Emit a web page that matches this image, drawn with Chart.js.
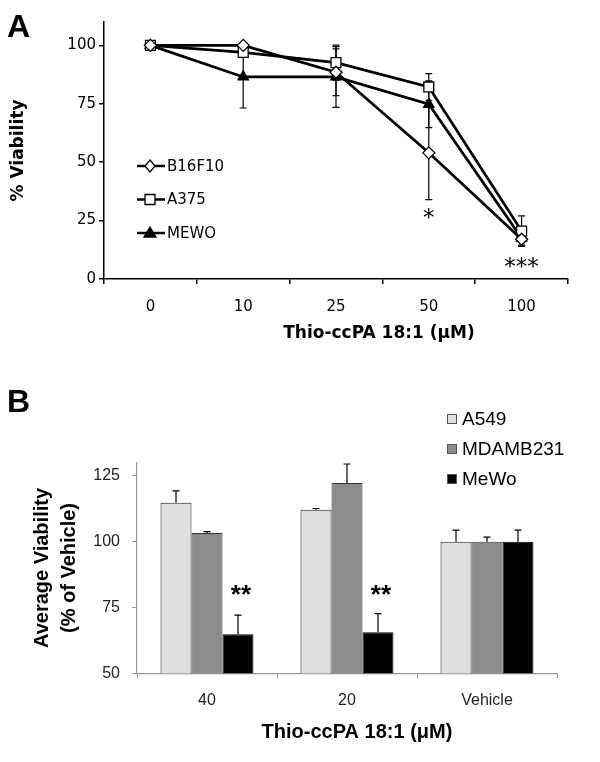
<!DOCTYPE html>
<html>
<head>
<meta charset="utf-8">
<script src="https://cdn.jsdelivr.net/npm/chart.js@4.4.0/dist/chart.umd.min.js"></script>
<style>
  body { margin: 0; background: #fff; }
  .page { position: relative; width: 600px; height: 762px; overflow: hidden; }
  .panel { position: absolute; left: 7px; font: bold 32px "Liberation Sans", Arial, sans-serif; line-height: 1; color: #000; }
  #chartA { position: absolute; left: 0; top: 0; }
  #chartB { position: absolute; left: 0; top: 380px; }
</style>
</head>
<body>
<div class="page">
  <canvas id="chartA" width="600" height="350"></canvas>
  <canvas id="chartB" width="600" height="382"></canvas>
  <div class="panel" style="top:10px">A</div>
  <div class="panel" style="top:385px">B</div>
</div>
<script>
// Panel A: dose response, % viability
const dosesA = ['0', '10', '25', '50', '100'];
const b16f10 = [100, 100, 88.5, 54, 17];
const b16f10Err = [0, 0, 10, 20, 3];
const a375 = [100, 97, 92.6, 82.2, 20.5];
const a375Err = [0, 0, 7.5, 5.7, 6.5];
const mewo = [100, 86.5, 86.5, 74.8, 17.5];
const mewoErr = [0, 13.3, 13, 10, 3];
const ticksA = [0, 25, 50, 75, 100];
const starsA = [['50', 27, '*'], ['100', 6, '***']];
const xTitleA = 'Thio-ccPA 18:1 (μM)';

// Panel B: average viability (% of vehicle)
const dosesB = ['40', '20', 'Vehicle'];
const a549 = [114.8, 112.1, 100];
const a549Err = [4.5, 0.5, 4.4];
const mdamb231 = [103.3, 122.3, 100];
const mdamb231Err = [0.5, 7.2, 1.7];
const mewoB = [64.8, 65.6, 100];
const mewoBErr = [7.3, 7.1, 4.4];
const ticksB = [50, 75, 100, 125];
const starsB = [['40', 81, '**'], ['20', 81, '**']];
const xTitleB = 'Thio-ccPA 18:1 (μM)';

const verdana = 'DejaVu Sans';
const arial = 'Liberation Sans';

function drawMarker(ctx, style, x, y, filled) {
  ctx.beginPath();
  if (style === 'rectRot') {
    ctx.moveTo(x, y - 6); ctx.lineTo(x + 5, y); ctx.lineTo(x, y + 6); ctx.lineTo(x - 5, y); ctx.closePath();
  } else if (style === 'rect') {
    ctx.rect(x - 5, y - 5, 10, 10);
  } else {
    ctx.moveTo(x, y - 6); ctx.lineTo(x + 6, y + 4); ctx.lineTo(x - 6, y + 4); ctx.closePath();
  }
  ctx.fillStyle = filled ? '#000' : '#fff';
  ctx.fill();
  ctx.lineWidth = 1.3;
  ctx.strokeStyle = '#000';
  ctx.stroke();
}

const errorBarsA = {
  id: 'errorBarsA',
  beforeDatasetsDraw(chart) {
    const ctx = chart.ctx, ys = chart.scales.y;
    ctx.save();
    ctx.strokeStyle = '#000';
    ctx.lineWidth = 1.2;
    chart.data.datasets.forEach((ds, di) => {
      const meta = chart.getDatasetMeta(di);
      ds.errors.forEach((e, i) => {
        if (!e) return;
        const x = meta.data[i].x;
        const yt = ys.getPixelForValue(ds.data[i] + e);
        const yb = ys.getPixelForValue(ds.data[i] - e);
        ctx.beginPath();
        ctx.moveTo(x, yt); ctx.lineTo(x, yb);
        ctx.moveTo(x - 3.5, yt); ctx.lineTo(x + 3.5, yt);
        ctx.moveTo(x - 3.5, yb); ctx.lineTo(x + 3.5, yb);
        ctx.stroke();
      });
    });
    ctx.restore();
  },
  afterDraw(chart) {
    const ctx = chart.ctx, xs = chart.scales.x, ys = chart.scales.y;
    ctx.save();
    ctx.fillStyle = '#000';
    ctx.textAlign = 'center';
    ctx.textBaseline = 'middle';
    ctx.font = '23px "' + verdana + '"';
    starsA.forEach(([cat, v, t]) => {
      ctx.fillText(t, xs.getPixelForValue(dosesA.indexOf(cat)), ys.getPixelForValue(v) + 3);
    });
    // x axis title, set right of centre as in the original figure
    ctx.font = 'bold 17px "' + verdana + '"';
    ctx.fillText(xTitleA, (chart.chartArea.left + chart.chartArea.right) / 2 + 43, 334);
    // legend
    ctx.font = '15px "' + verdana + '"';
    ctx.textAlign = 'left';
    chart.data.datasets.forEach((ds, i) => {
      const y = 166 + i * 33.5;
      ctx.beginPath();
      ctx.moveTo(137, y); ctx.lineTo(165, y);
      ctx.lineWidth = 2.5; ctx.strokeStyle = '#000';
      ctx.stroke();
      drawMarker(ctx, ds.pointStyle, 150, y, ds.pointBackgroundColor === '#000');
      ctx.fillStyle = '#000';
      ctx.fillText(ds.label, 167, y + 1);
    });
    ctx.restore();
  }
};

function lineSet(label, data, errors, style, fill, radius) {
  return {
    label, data, errors,
    borderColor: '#000', borderWidth: 2.7, tension: 0,
    pointStyle: style, pointRadius: radius,
    pointBackgroundColor: fill, pointBorderColor: '#000', pointBorderWidth: 1.3
  };
}

new Chart(document.getElementById('chartA'), {
  type: 'line',
  data: {
    labels: dosesA,
    datasets: [
      lineSet('B16F10', b16f10, b16f10Err, 'rectRot', '#fff', 6),
      lineSet('A375', a375, a375Err, 'rect', '#fff', 7),
      lineSet('MEWO', mewo, mewoErr, 'triangle', '#000', 6)
    ]
  },
  options: {
    responsive: false,
    animation: false,
    layout: { padding: { top: 22, right: 32, left: 0, bottom: 0 } },
    plugins: { legend: { display: false }, tooltip: { enabled: false } },
    scales: {
      x: {
        offset: true,
        grid: { offset: true, drawOnChartArea: false, color: '#000', lineWidth: 1.5, tickLength: 5 },
        border: { color: '#000', width: 1.5 },
        ticks: { color: '#000', padding: 14, font: { family: verdana, size: 15 } },
        afterFit(s) { s.height = 71; }
      },
      y: {
        min: 0, max: 110,
        grid: { drawOnChartArea: false, color: '#000', lineWidth: 1.5, tickLength: 5 },
        border: { color: '#000', width: 1.5 },
        ticks: { color: '#000', padding: 3, font: { family: verdana, size: 15 } },
        afterBuildTicks(s) { s.ticks = ticksA.map(v => ({ value: v })); },
        title: { display: true, text: '% Viability', color: '#000',
                 font: { family: verdana, size: 17, weight: 'bold' }, padding: { top: 8 } },
        afterFit(s) { s.width = 104; }
      }
    }
  },
  plugins: [errorBarsA]
});

const errorBarsB = {
  id: 'errorBarsB',
  afterDatasetsDraw(chart) {
    const ctx = chart.ctx, ys = chart.scales.y;
    ctx.save();
    ctx.strokeStyle = '#000';
    ctx.lineWidth = 1.2;
    chart.data.datasets.forEach((ds, di) => {
      const meta = chart.getDatasetMeta(di);
      ds.errors.forEach((e, i) => {
        const x = meta.data[i].x;
        const yb = ys.getPixelForValue(ds.data[i]);
        const yt = ys.getPixelForValue(ds.data[i] + e);
        ctx.beginPath();
        ctx.moveTo(x, yb); ctx.lineTo(x, yt);
        ctx.moveTo(x - 3.5, yt); ctx.lineTo(x + 3.5, yt);
        ctx.stroke();
      });
    });
    ctx.fillStyle = '#000';
    ctx.textAlign = 'center';
    ctx.textBaseline = 'middle';
    ctx.font = 'bold 26px "' + arial + '"';
    const meta = chart.getDatasetMeta(2);
    starsB.forEach(([cat, v, t]) => {
      const i = dosesB.indexOf(cat);
      ctx.fillText(t, meta.data[i].x + 3, ys.getPixelForValue(v) + 4);
    });
    // x axis title
    ctx.font = 'bold 20px "' + arial + '"';
    ctx.fillText(xTitleB, (chart.chartArea.left + chart.chartArea.right) / 2 + 10, 352);
    // legend
    ctx.font = '19px "' + arial + '"';
    ctx.textAlign = 'left';
    chart.data.datasets.forEach((ds, i) => {
      const y = 39 + i * 30;
      ctx.fillStyle = ds.backgroundColor;
      ctx.fillRect(447.5, y - 4.5, 9, 9);
      ctx.strokeStyle = '#555';
      ctx.lineWidth = 1;
      ctx.strokeRect(447.5, y - 4.5, 9, 9);
      ctx.fillStyle = '#000';
      ctx.fillText(ds.label, 462, y + 1);
    });
    ctx.restore();
  }
};

function barSet(label, data, errors, color, border) {
  return { label, data, errors, backgroundColor: color, borderColor: border, borderWidth: 1 };
}

new Chart(document.getElementById('chartB'), {
  type: 'bar',
  data: {
    labels: dosesB,
    datasets: [
      barSet('A549', a549, a549Err, '#e0e0e0', '#222'),
      barSet('MDAMB231', mdamb231, mdamb231Err, '#8c8c8c', '#333'),
      barSet('MeWo', mewoB, mewoBErr, '#000', '#000')
    ]
  },
  options: {
    responsive: false,
    animation: false,
    categoryPercentage: 0.664,
    barPercentage: 1,
    layout: { padding: { top: 82.7, right: 43, left: 0, bottom: 0 } },
    plugins: { legend: { display: false }, tooltip: { enabled: false } },
    scales: {
      x: {
        grid: { offset: true, drawOnChartArea: false, color: '#999', tickLength: 5 },
        border: { color: '#999', width: 1.2 },
        ticks: { color: '#222', padding: 13, font: { family: arial, size: 16 } },
        afterFit(s) { s.height = 88.7; }
      },
      y: {
        min: 50, max: 130,
        grid: { drawOnChartArea: false, color: '#999', tickLength: 5 },
        border: { color: '#999', width: 1.2 },
        ticks: { color: '#222', padding: 12, font: { family: arial, size: 16 } },
        afterBuildTicks(s) { s.ticks = ticksB.map(v => ({ value: v })); },
        title: { display: true, text: ['Average Viability', '(% of Vehicle)'], color: '#000',
                 font: { family: arial, size: 20, weight: 'bold', lineHeight: 1.35 }, padding: { top: 29 } },
        afterFit(s) { s.width = 137; }
      }
    }
  },
  plugins: [errorBarsB]
});
</script>
</body>
</html>
